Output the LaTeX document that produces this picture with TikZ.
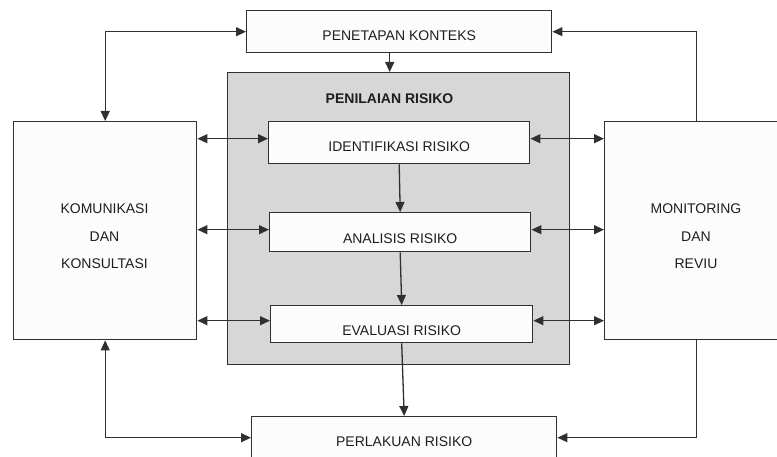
\documentclass[tikz,border=0pt]{standalone}
\usepackage{fontspec}
\setmainfont{Liberation Sans}
\usetikzlibrary{arrows.meta}
\definecolor{ln}{HTML}{303030}
\definecolor{gfill}{HTML}{D7D7D7}
\definecolor{bfill}{HTML}{FCFCFC}
\definecolor{tx}{HTML}{1E1E1E}
\begin{document}
\begin{tikzpicture}[x=1pt,y=-1pt,
  >={Triangle[length=10pt,width=9pt]},
  box/.style={draw=ln, line width=1.4pt, fill=bfill, inner sep=0pt, anchor=north west,
    font=\fontsize{14}{16}\selectfont, text=tx},
  lbl/.style={text=tx, inner sep=0pt, font=\fontsize{14}{27.5}\selectfont, align=center},
  con/.style={draw=ln, line width=1.3pt}]
\useasboundingbox (0,0) rectangle (777,457);
% boxes
\node[box, minimum width=305pt, minimum height=42pt, text height=18pt, text depth=0pt] (pk) at (246,10) {PENETAPAN KONTEKS};
\node[draw=ln, line width=1.4pt, fill=gfill, inner sep=0pt, anchor=north west, minimum width=342pt, minimum height=292pt] (gray) at (227,72) {};
\node[lbl, anchor=base, font=\fontsize{14}{16}\selectfont\bfseries] (title) at (389.5,104) {PENILAIAN RISIKO};
\node[box, minimum width=261pt, minimum height=42pt, text height=18pt, text depth=0pt] (id) at (268,121) {IDENTIFIKASI RISIKO};
\node[box, minimum width=261pt, minimum height=39pt, text height=23pt, text depth=0pt] (an) at (269,212) {ANALISIS RISIKO};
\node[box, minimum width=262pt, minimum height=37pt, text height=23pt, text depth=0pt] (ev) at (270,305) {EVALUASI RISIKO};
\node[box, minimum width=183pt, minimum height=218pt] (kom) at (13,121) {};
\node[box, minimum width=184pt, minimum height=218pt] (mon) at (604,121) {};
\node[box, minimum width=305pt, minimum height=42pt, text height=18pt, text depth=0pt] (pl) at (251,416) {PERLAKUAN RISIKO};
\node[lbl] (komt) at (104.5,236.5) {KOMUNIKASI\\DAN\\KONSULTASI};
\node[lbl] (mont) at (696,236.5) {MONITORING\\DAN\\REVIU};
% connectors
\coordinate (pks) at ([xshift=-9.5pt]pk.south);
\draw[con, <->] (kom.north) |- (pk.west);
\draw[con, ->] (mon.north) |- (pk.east);
\draw[con, ->] (pks) -- (pks |- gray.north);
\coordinate (idw) at ([yshift=4pt]id.west);
\coordinate (ide) at ([yshift=4pt]id.east);
\coordinate (anw) at ([yshift=2.5pt]an.west);
\coordinate (ane) at ([yshift=2.5pt]an.east);
\coordinate (evw) at ([yshift=3.5pt]ev.west);
\coordinate (eve) at ([yshift=3.5pt]ev.east);
\draw[con, <->] (kom.east |- idw) -- (idw);
\draw[con, <->] (kom.east |- anw) -- (anw);
\draw[con, <->] (kom.east |- evw) -- (evw);
\draw[con, <->] (ide) -- (mon.west |- ide);
\draw[con, <->] (ane) -- (mon.west |- ane);
\draw[con, <->] (eve) -- (mon.west |- eve);
\draw[con, ->] (id.south) -- (an.north);
\draw[con, ->] (an.south) -- (ev.north);
\draw[con, ->] (ev.south) -- (pl.north);
\draw[con, <->] (kom.south) |- (pl.west);
\draw[con, ->] (mon.south) |- (pl.east);
\end{tikzpicture}
\end{document}
